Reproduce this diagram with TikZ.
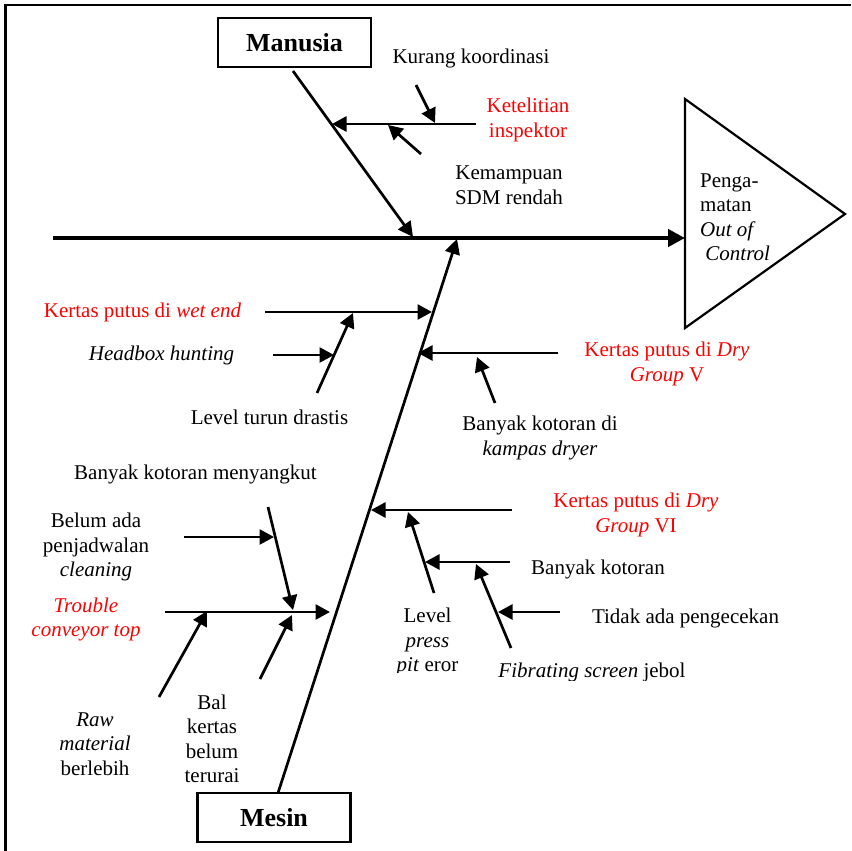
\documentclass[tikz,border=0pt]{standalone}
\usepackage{fontspec}
\setmainfont{Liberation Serif}
\usetikzlibrary{arrows.meta}
\definecolor{causered}{RGB}{255,0,0}

\begin{document}
\begin{tikzpicture}[x=1pt,y=-1pt,
  lbl/.style={inner sep=0pt,font=\fontsize{21}{24.5}\selectfont,align=center},
  redlbl/.style={lbl,text=causered},
  catbox/.style={draw,line width=2.2pt,minimum width=153pt,minimum height=49pt,
    inner sep=0pt,font=\fontsize{26}{30}\selectfont\bfseries},
  bone/.style={line width=2.7pt,-{Triangle[length=15pt,width=15pt]}},
  twig/.style={line width=2.7pt,-{Triangle[length=14.5pt,width=15pt]}},
  spine/.style={line width=4.5pt,-{Triangle[length=17pt,width=17pt]}}]
\useasboundingbox (0,0) rectangle (851,851);

% outer frame (top and left edges)
\draw[line width=2.5pt] (5.5,851) -- (5.5,5) -- (851,5);

% effect head
\coordinate (head-t) at (685,99);
\coordinate (head-a) at (845,214);
\coordinate (head-b) at (685,328);
\draw[line width=2.2pt,line join=miter] (head-t) -- (head-a) -- (head-b) -- cycle;
\node[lbl,align=left,anchor=west] (effect) at (700,217)
  {Penga-\\matan\\\textit{Out of}\\\hspace*{0.25em}\textit{Control}};

% spine
\coordinate (sp-s) at (53,238);
\coordinate (sp-e) at (685,238);
\draw[spine] (sp-s) -- (sp-e);

% category boxes and main bones
\node[catbox] (manusia) at (294.5,42.5) {Manusia};
\node[catbox] (mesin) at (274,817.5) {Mesin};
\coordinate (man-s) at (293,71);
\coordinate (man-e) at (413,237);
\coordinate (mes-s) at (278,793);
\coordinate (mes-e) at (457,239);
\draw[bone] (man-s) -- (man-e);
\draw[bone] (mes-s) -- (mes-e);

% ---- Manusia causes
\node[lbl] (kurang) at (471,58) {Kurang koordinasi};
\node[redlbl] (ketelitian) at (528,120) {Ketelitian\\inspektor};
\node[lbl] (kemampuan) at (509,185) {Kemampuan\\SDM rendah};
\coordinate (ket-s) at (476,124);  \coordinate (ket-e) at (332,124);
\coordinate (kur-s) at (416,85);   \coordinate (kur-e) at (435,123);
\coordinate (kem-s) at (421,154);  \coordinate (kem-e) at (388,125);
\draw[twig] (ket-s) -- (ket-e);
\draw[twig] (kur-s) -- (kur-e);
\draw[twig] (kem-s) -- (kem-e);

% ---- Mesin causes, upper left
\node[redlbl] (wetend) at (142.5,312) {Kertas putus di \textit{wet end}};
\node[lbl] (headbox) at (161.5,355) {\textit{Headbox hunting}};
\node[lbl] (levelturun) at (269.5,417) {Level turun drastis};
\coordinate (wet-s) at (265,312);  \coordinate (wet-e) at (432,312);
\coordinate (lvt-s) at (317,393);  \coordinate (lvt-e) at (353,313);
\coordinate (hbx-s) at (273,355);  \coordinate (hbx-e) at (334,355);
\draw[twig] (wet-s) -- (wet-e);
\draw[twig] (lvt-s) -- (lvt-e);
\draw[twig] (hbx-s) -- (hbx-e);

% ---- Mesin causes, upper right
\node[redlbl] (dryv) at (667,364) {Kertas putus di \textit{Dry}\\\textit{Group} V};
\node[lbl] (kampas) at (540,438) {Banyak kotoran di\\\textit{kampas dryer}};
\coordinate (dv-s) at (558,353);   \coordinate (dv-e) at (418,353);
\coordinate (kmp-s) at (495,403);  \coordinate (kmp-e) at (477,357);
\draw[twig] (dv-s) -- (dv-e);
\draw[twig] (kmp-s) -- (kmp-e);

% ---- Mesin causes, lower right
\node[redlbl] (dryvi) at (636,515) {Kertas putus di \textit{Dry}\\\textit{Group} VI};
\node[lbl] (banyak) at (598,569) {Banyak kotoran};
\node[lbl] (tidak) at (685.5,618) {Tidak ada pengecekan};
\begin{scope}
  \clip (380,600) rectangle (480,672);
  \node[lbl] (levelpress) at (427.5,642) {Level\\\textit{press}\\\textit{pit} eror};
\end{scope}
\begin{scope}
  \clip (480,650) rectangle (720,680);
  \node[lbl] (fibrating) at (592,672) {\textit{Fibrating screen} jebol};
\end{scope}
\coordinate (dvi-s) at (512,510);  \coordinate (dvi-e) at (371,510);
\coordinate (lvp-s) at (434,593);  \coordinate (lvp-e) at (408,512);
\coordinate (bny-s) at (510,562);  \coordinate (bny-e) at (425,562);
\coordinate (fib-s) at (511,648);  \coordinate (fib-e) at (476,564);
\coordinate (tdk-s) at (560,612);  \coordinate (tdk-e) at (498,612);
\draw[twig] (dvi-s) -- (dvi-e);
\draw[twig] (lvp-s) -- (lvp-e);
\draw[twig] (bny-s) -- (bny-e);
\draw[twig] (fib-s) -- (fib-e);
\draw[twig] (tdk-s) -- (tdk-e);

% ---- Mesin causes, lower left
\node[lbl] (menyangkut) at (195.5,474) {Banyak kotoran menyangkut};
\node[lbl] (belum) at (96,547) {Belum ada\\penjadwalan\\\textit{cleaning}};
\node[redlbl] (trouble) at (86,619.5) {\textit{Trouble}\\\textit{conveyor top}};
\node[lbl] (raw) at (95,744) {\textit{Raw}\\\textit{material}\\berlebih};
\node[lbl] (bal) at (212,739) {Bal\\kertas\\belum\\terurai};
\coordinate (trb-s) at (165,612);  \coordinate (trb-e) at (330,612);
\coordinate (myk-s) at (268,507);  \coordinate (myk-e) at (293,610);
\coordinate (blm-s) at (184,537);  \coordinate (blm-e) at (274,537);
\coordinate (raw-s) at (159,697);  \coordinate (raw-e) at (207,611);
\coordinate (bal-s) at (260,679);  \coordinate (bal-e) at (292,615);
\draw[twig] (trb-s) -- (trb-e);
\draw[twig] (myk-s) -- (myk-e);
\draw[twig] (blm-s) -- (blm-e);
\draw[twig] (raw-s) -- (raw-e);
\draw[twig] (bal-s) -- (bal-e);
\end{tikzpicture}
\end{document}
